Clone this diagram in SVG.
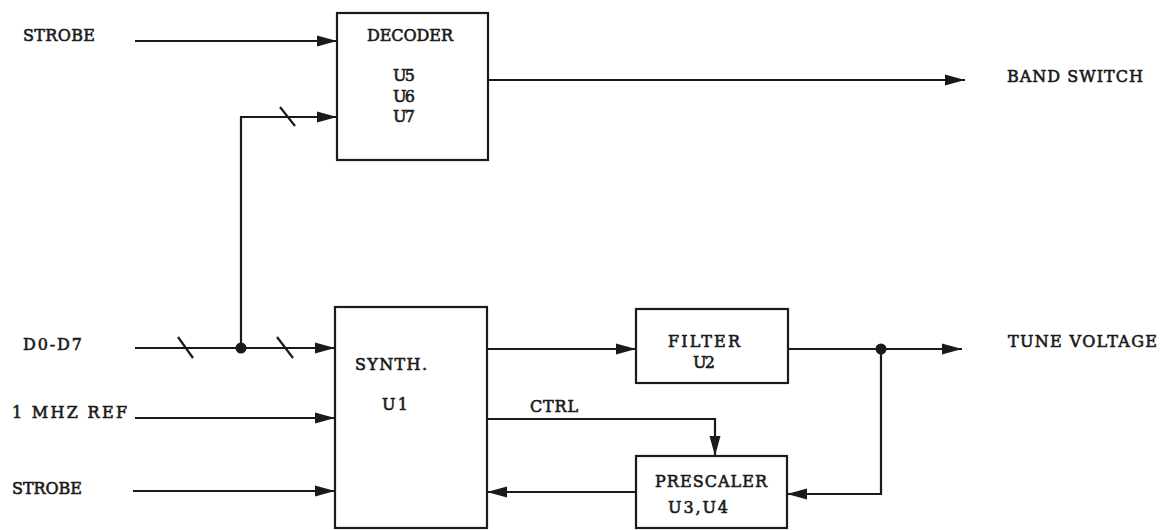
<svg xmlns="http://www.w3.org/2000/svg" width="1167" height="530" viewBox="0 0 1167 530">
<style>
.box{fill:none;stroke:#1a1a1a;stroke-width:2.2}
.ln{fill:none;stroke:#1a1a1a;stroke-width:2.2}
.arr{marker-end:url(#ah)}
.t{font-family:"DejaVu Serif","Liberation Serif",serif;font-size:16px;fill:#1a1a1a;stroke:#1a1a1a;stroke-width:0.6}
.dot{fill:#1a1a1a}
</style>
<defs>
<marker id="ah" markerUnits="userSpaceOnUse" markerWidth="20" markerHeight="12" refX="20" refY="6" orient="auto">
<path d="M0,0.5 L20,6 L0,11.5 z" fill="#1a1a1a"/>
</marker>
</defs>
<rect width="1167" height="530" fill="#ffffff"/>
<g id="connectors">
<line class="ln arr" x1="135" y1="41" x2="337" y2="41"/>
<polyline class="ln arr" points="241,349 241,117 337,117"/>
<line class="ln" x1="280" y1="107" x2="295" y2="126"/>
<line class="ln arr" x1="488" y1="80" x2="965" y2="80"/>
<line class="ln arr" x1="135" y1="348" x2="335" y2="348"/>
<line class="ln" x1="178" y1="337" x2="193" y2="358"/>
<line class="ln" x1="277" y1="337" x2="293" y2="358"/>
<circle class="dot" cx="241" cy="348" r="5.5"/>
<line class="ln arr" x1="135" y1="418" x2="335" y2="418"/>
<line class="ln arr" x1="133" y1="491" x2="335" y2="491"/>
<line class="ln arr" x1="487" y1="349" x2="636" y2="349"/>
<line class="ln arr" x1="788" y1="349" x2="962" y2="349"/>
<circle class="dot" cx="881" cy="349" r="5.5"/>
<polyline class="ln arr" points="881,349 881,494 787,494"/>
<line class="ln arr" x1="636" y1="492" x2="487" y2="492"/>
<polyline class="ln arr" points="487,419 715,419 715,456"/>
</g>
<g id="decoder">
<rect class="box" x="337" y="13" width="151" height="147"/>
<text class="t" x="367" y="41" textLength="86" lengthAdjust="spacing">DECODER</text>
<text class="t" x="393" y="81" textLength="22" lengthAdjust="spacing">U5</text>
<text class="t" x="393" y="101.5" textLength="22" lengthAdjust="spacing">U6</text>
<text class="t" x="393" y="122" textLength="22" lengthAdjust="spacing">U7</text>
</g>
<g id="synth">
<rect class="box" x="335" y="307" width="152" height="221"/>
<text class="t" x="355" y="370" textLength="72" lengthAdjust="spacing">SYNTH.</text>
<text class="t" x="382" y="410" textLength="26" lengthAdjust="spacing">U1</text>
</g>
<g id="filter">
<rect class="box" x="636" y="309" width="152" height="74"/>
<text class="t" x="668" y="347" textLength="72" lengthAdjust="spacing">FILTER</text>
<text class="t" x="693" y="368" textLength="22" lengthAdjust="spacing">U2</text>
</g>
<g id="prescaler">
<rect class="box" x="636" y="456" width="151" height="72"/>
<text class="t" x="655" y="487" textLength="112" lengthAdjust="spacing">PRESCALER</text>
<text class="t" x="668" y="513" textLength="60" lengthAdjust="spacing">U3,U4</text>
</g>
<g id="labels">
<text class="t" x="23" y="41" textLength="72" lengthAdjust="spacing">STROBE</text>
<text class="t" x="1007" y="82" textLength="136" lengthAdjust="spacing">BAND SWITCH</text>
<text class="t" x="23" y="350" textLength="59" lengthAdjust="spacing">D0-D7</text>
<text class="t" x="12" y="418" textLength="115" lengthAdjust="spacing">1 MHZ REF</text>
<text class="t" x="12" y="494" textLength="70" lengthAdjust="spacing">STROBE</text>
<text class="t" x="1008" y="347" textLength="149" lengthAdjust="spacing">TUNE VOLTAGE</text>
<text class="t" x="530" y="412" textLength="48" lengthAdjust="spacing">CTRL</text>
</g>
</svg>
